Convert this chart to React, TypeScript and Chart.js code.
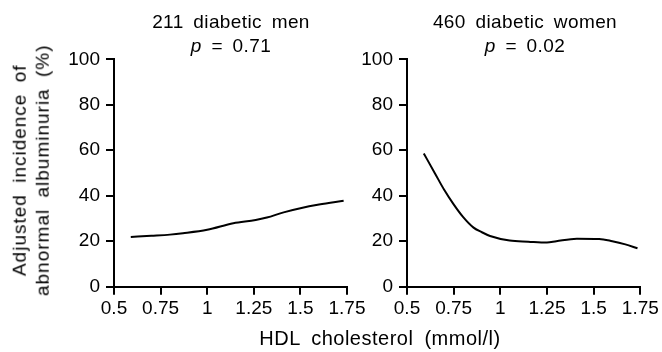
import React, { useEffect, useRef } from "react";
import { Chart, registerables } from "chart.js";

Chart.register(...registerables);

const xTickLabels = ["0.5", "0.75", "1", "1.25", "1.5", "1.75"];
const yTickLabels = ["0", "20", "40", "60", "80", "100"];

const menHdl = [0.59, 0.7, 0.8, 0.87, 1.0, 1.14, 1.26, 1.32, 1.41, 1.5, 1.6, 1.732];
const menIncidence = [21.9, 22.4, 22.9, 23.5, 25.0, 27.9, 29.3, 30.4, 32.7, 34.5, 36.1, 37.8];

const womenHdl = [0.59, 0.65, 0.7, 0.75, 0.8, 0.855, 0.9, 0.945, 1.05, 1.15, 1.25, 1.3, 1.41, 1.53, 1.6, 1.67, 1.735];
const womenIncidence = [58.6, 49.8, 42.5, 36.2, 30.7, 26.1, 24.0, 22.3, 20.3, 19.8, 19.4, 20.0, 21.1, 21.0, 20.0, 18.6, 16.9];

const FONT = "'Liberation Sans', Arial, Helvetica, sans-serif";

function makeConfig(xs: number[], ys: number[], padLeft: number, padRight: number): any {
  const data = xs.map((x, i) => ({ x, y: ys[i] }));
  const tickFont = { family: FONT, size: 19 };
  return {
    type: "line",
    data: {
      datasets: [
        {
          data,
          borderColor: "#000",
          borderWidth: 2,
          pointRadius: 0,
          fill: false,
          cubicInterpolationMode: "monotone",
        },
      ],
    },
    options: {
      animation: false,
      responsive: false,
      maintainAspectRatio: false,
      layout: { padding: { left: padLeft, right: padRight, top: 59.3, bottom: 25.3 } },
      plugins: { legend: { display: false }, tooltip: { enabled: false }, title: { display: false } },
      scales: {
        x: {
          type: "linear",
          min: 0.5,
          max: 1.75,
          afterFit: (s: any) => {
            s.height = 40;
          },
          afterBuildTicks: (s: any) => {
            s.ticks = xTickLabels.map((l) => ({ value: parseFloat(l) }));
          },
          ticks: {
            color: "#000",
            font: tickFont,
            padding: 2.5,
            maxRotation: 0,
            autoSkip: false,
            callback: (_v: any, i: number) => xTickLabels[i],
          },
          grid: { drawOnChartArea: false, drawTicks: true, tickLength: 8, color: "#000", lineWidth: 2 },
          border: { display: true, color: "#000", width: 2 },
        },
        y: {
          type: "linear",
          min: 0,
          max: 100,
          afterFit: (s: any) => {
            s.width = 50;
          },
          afterBuildTicks: (s: any) => {
            s.ticks = yTickLabels.map((l) => ({ value: parseFloat(l) }));
          },
          ticks: {
            color: "#000",
            font: tickFont,
            padding: 6,
            autoSkip: false,
            callback: (_v: any, i: number) => yTickLabels[i],
          },
          grid: { drawOnChartArea: false, drawTicks: true, tickLength: 8, color: "#000", lineWidth: 2 },
          border: { display: true, color: "#000", width: 2 },
        },
      },
    },
  };
}

function Panel(props: { xs: number[]; ys: number[]; left: number; width: number; padLeft: number; padRight: number }) {
  const ref = useRef<HTMLCanvasElement | null>(null);
  useEffect(() => {
    if (!ref.current) return;
    const chart = new Chart(ref.current, makeConfig(props.xs, props.ys, props.padLeft, props.padRight));
    return () => chart.destroy();
  }, []);
  return (
    <canvas
      ref={ref}
      width={props.width}
      height={352}
      style={{ position: "absolute", left: props.left, top: 0, width: props.width, height: 352 }}
    />
  );
}

const titleStyle: React.CSSProperties = {
  position: "absolute",
  top: 10,
  width: 300,
  textAlign: "center",
  fontFamily: FONT,
  fontSize: 19,
  lineHeight: "24.3px",
  letterSpacing: "0.4px",
  wordSpacing: "4px",
  color: "#000",
  whiteSpace: "nowrap",
};

export default function App() {
  return (
    <div style={{ position: "absolute", left: 0, top: 0, width: 662, height: 352, background: "#fff", overflow: "hidden" }}>
      <Panel xs={menHdl} ys={menIncidence} left={0} width={370} padLeft={64} padRight={23} />
      <Panel xs={womenHdl} ys={womenIncidence} left={300} width={362} padLeft={57} padRight={21.7} />
      <div style={{ ...titleStyle, left: 231 - 150 }}>
        <div>211 diabetic men</div>
        <div>
          <i>p</i> = 0.71
        </div>
      </div>
      <div style={{ ...titleStyle, left: 525 - 150 }}>
        <div>460 diabetic women</div>
        <div>
          <i>p</i> = 0.02
        </div>
      </div>
      <div
        style={{
          position: "absolute",
          left: 31.4 - 150,
          top: 170 - 23.3,
          width: 300,
          height: 46.6,
          transform: "rotate(-90deg)",
          textAlign: "center",
          fontFamily: FONT,
          fontSize: 19,
          lineHeight: "23.3px",
          letterSpacing: "1px",
          wordSpacing: "5px",
          color: "#000",
          whiteSpace: "nowrap",
        }}
      >
        <div>Adjusted incidence of</div>
        <div>abnormal albuminuria (%)</div>
      </div>
      <div
        style={{
          position: "absolute",
          left: 380 - 200,
          top: 328,
          width: 400,
          textAlign: "center",
          fontFamily: FONT,
          fontSize: 20,
          lineHeight: "20px",
          letterSpacing: "0.5px",
          wordSpacing: "5px",
          color: "#000",
          whiteSpace: "nowrap",
        }}
      >
        HDL cholesterol (mmol/l)
      </div>
    </div>
  );
}
